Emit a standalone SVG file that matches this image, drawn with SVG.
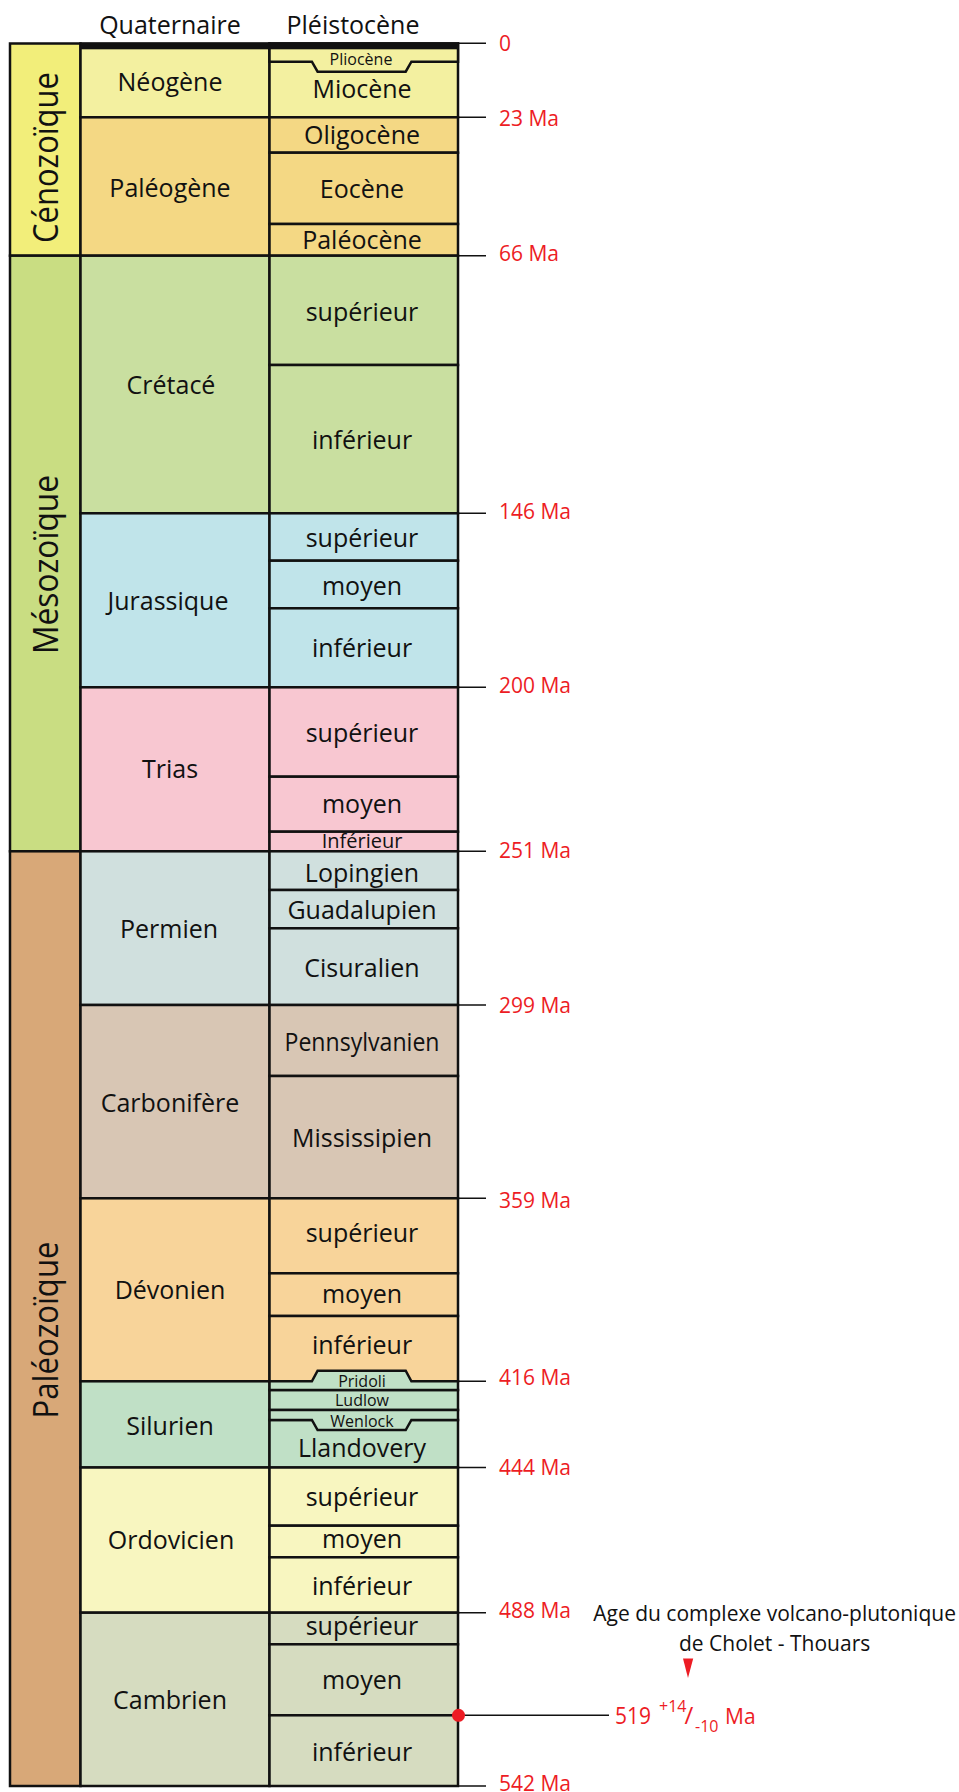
<svg xmlns="http://www.w3.org/2000/svg" width="959" height="1792" viewBox="0 0 959 1792">
<style>
.c{stroke:#111;stroke-width:2.5;stroke-linejoin:miter}
.t{font-family:"Open Sans","Liberation Sans",sans-serif;font-size:25px;fill:#111;text-anchor:middle}
.s{font-family:"Open Sans","Liberation Sans",sans-serif;font-size:16px;fill:#111;text-anchor:middle}
.e{font-family:"Open Sans","Liberation Sans",sans-serif;font-size:34px;fill:#111;text-anchor:middle}
.m{font-family:"Open Sans","Liberation Sans",sans-serif;font-size:21px;fill:#ed1c24}
.k{stroke:#111;stroke-width:1.5;fill:none}
.cz{fill:#f2ee7a}.ng{fill:#f3f0a0}.pg{fill:#f4d884}
.mz{fill:#c9dd82}.cr{fill:#c9dfa0}.ju{fill:#c0e4ea}.tr{fill:#f8c7d1}
.pz{fill:#d8a878}.pe{fill:#d0e0de}.ca{fill:#d8c6b4}.de{fill:#f8d49a}.si{fill:#c0e0c6}.or{fill:#f8f6c0}.cb{fill:#d6dcc0}
</style>

<g id="headers">
<text class="t" x="170" y="34.3">Quaternaire</text>
<text class="t" x="353" y="34.3">Pléistocène</text>
</g>

<!-- Eras -->
<g id="era-cenozoique"><rect class="c cz" x="10" y="43.5" width="70.5" height="212.2"/><text class="e" transform="translate(58,157.5) rotate(-90)" textLength="171" lengthAdjust="spacingAndGlyphs">Cénozoïque</text></g>
<g id="era-mesozoique"><rect class="c mz" x="10" y="255.7" width="70.5" height="595.6"/><text class="e" transform="translate(58,564.5) rotate(-90)" textLength="179" lengthAdjust="spacingAndGlyphs">Mésozoïque</text></g>
<g id="era-paleozoique"><rect class="c pz" x="10" y="851.3" width="70.5" height="934.7"/><text class="e" transform="translate(58,1330) rotate(-90)" textLength="177" lengthAdjust="spacingAndGlyphs">Paléozoïque</text></g>

<!-- Periods -->
<g id="per-neogene"><rect class="c ng" x="80.5" y="43.5" width="189" height="73.8"/><text class="t" x="170" y="90.7">Néogène</text></g>
<g id="per-paleogene"><rect class="c pg" x="80.5" y="117.3" width="189" height="138.4"/><text class="t" x="170" y="196.7">Paléogène</text></g>
<g id="per-cretace"><rect class="c cr" x="80.5" y="255.7" width="189" height="257.6"/><text class="t" x="171" y="394">Crétacé</text></g>
<g id="per-jurassique"><rect class="c ju" x="80.5" y="513.3" width="189" height="174"/><text class="t" x="168" y="610">Jurassique</text></g>
<g id="per-trias"><rect class="c tr" x="80.5" y="687.3" width="189" height="164"/><text class="t" x="170" y="778.3">Trias</text></g>
<g id="per-permien"><rect class="c pe" x="80.5" y="851.3" width="189" height="153.7"/><text class="t" x="169" y="938.3">Permien</text></g>
<g id="per-carbonifere"><rect class="c ca" x="80.5" y="1005" width="189" height="193.3"/><text class="t" x="170" y="1111.7">Carbonifère</text></g>
<g id="per-devonien"><rect class="c de" x="80.5" y="1198.3" width="189" height="183"/><text class="t" x="170" y="1299.3">Dévonien</text></g>
<g id="per-silurien"><rect class="c si" x="80.5" y="1381.3" width="189" height="86.2"/><text class="t" x="170" y="1435">Silurien</text></g>
<g id="per-ordovicien"><rect class="c or" x="80.5" y="1467.5" width="189" height="145.2"/><text class="t" x="171" y="1549.3">Ordovicien</text></g>
<g id="per-cambrien"><rect class="c cb" x="80.5" y="1612.7" width="189" height="173.3"/><text class="t" x="170" y="1709.3">Cambrien</text></g>

<!-- Epochs -->
<g id="ep-miocene"><rect class="c ng" x="269.5" y="43.5" width="188.5" height="73.8"/><text class="t" x="362" y="98.3">Miocène</text></g>
<g id="ep-pliocene"><path class="c ng" d="M269.5,43.5 H458 V61.7 H411.4 L405.7,71.7 H317.6 L311.9,61.7 H269.5 Z"/><text class="s" x="361" y="65">Pliocène</text></g>
<g id="ep-oligocene"><rect class="c pg" x="269.5" y="117.3" width="188.5" height="35.4"/><text class="t" x="362" y="144">Oligocène</text></g>
<g id="ep-eocene"><rect class="c pg" x="269.5" y="152.7" width="188.5" height="71.3"/><text class="t" x="362" y="198.3">Eocène</text></g>
<g id="ep-paleocene"><rect class="c pg" x="269.5" y="224" width="188.5" height="31.7"/><text class="t" x="362" y="249.3">Paléocène</text></g>

<g id="ep-cr-sup"><rect class="c cr" x="269.5" y="255.7" width="188.5" height="109.3"/><text class="t" x="362" y="320.7">supérieur</text></g>
<g id="ep-cr-inf"><rect class="c cr" x="269.5" y="365" width="188.5" height="148.3"/><text class="t" x="362" y="449.3">inférieur</text></g>

<g id="ep-ju-sup"><rect class="c ju" x="269.5" y="513.3" width="188.5" height="47.4"/><text class="t" x="362" y="546.7">supérieur</text></g>
<g id="ep-ju-moy"><rect class="c ju" x="269.5" y="560.7" width="188.5" height="47.6"/><text class="t" x="362" y="595">moyen</text></g>
<g id="ep-ju-inf"><rect class="c ju" x="269.5" y="608.3" width="188.5" height="79"/><text class="t" x="362" y="656.7">inférieur</text></g>

<g id="ep-tr-sup"><rect class="c tr" x="269.5" y="687.3" width="188.5" height="89.4"/><text class="t" x="362" y="741.7">supérieur</text></g>
<g id="ep-tr-moy"><rect class="c tr" x="269.5" y="776.7" width="188.5" height="55"/><text class="t" x="362" y="813.3">moyen</text></g>
<g id="ep-tr-inf"><rect class="c tr" x="269.5" y="831.7" width="188.5" height="19.6"/><text class="t" x="362" y="848.3" style="font-size:20px">Inférieur</text></g>

<g id="ep-lopingien"><rect class="c pe" x="269.5" y="851.3" width="188.5" height="38.7"/><text class="t" x="362" y="881.7">Lopingien</text></g>
<g id="ep-guadalupien"><rect class="c pe" x="269.5" y="890" width="188.5" height="38.3"/><text class="t" x="362" y="919">Guadalupien</text></g>
<g id="ep-cisuralien"><rect class="c pe" x="269.5" y="928.3" width="188.5" height="76.7"/><text class="t" x="362" y="976.7">Cisuralien</text></g>

<g id="ep-pennsylvanien"><rect class="c ca" x="269.5" y="1005" width="188.5" height="71"/><text class="t" x="362" y="1050.7" textLength="155" lengthAdjust="spacingAndGlyphs">Pennsylvanien</text></g>
<g id="ep-mississipien"><rect class="c ca" x="269.5" y="1076" width="188.5" height="122.3"/><text class="t" x="362" y="1146.7">Mississipien</text></g>

<g id="ep-de-sup"><rect class="c de" x="269.5" y="1198.3" width="188.5" height="75"/><text class="t" x="362" y="1241.7">supérieur</text></g>
<g id="ep-de-moy"><rect class="c de" x="269.5" y="1273.3" width="188.5" height="42.7"/><text class="t" x="362" y="1303.3">moyen</text></g>
<g id="ep-de-inf"><rect class="c de" x="269.5" y="1316" width="188.5" height="65.3"/><text class="t" x="362" y="1354">inférieur</text></g>

<g id="ep-llandovery"><rect class="c si" x="269.5" y="1420" width="188.5" height="47.5"/><text class="t" x="362" y="1457">Llandovery</text></g>
<g id="ep-ludlow"><rect class="c si" x="269.5" y="1390" width="188.5" height="20"/><text class="s" x="362" y="1406.4">Ludlow</text></g>
<g id="ep-pridoli"><path class="c si" d="M269.5,1381.3 H311.9 L317.6,1370.7 H405.7 L411.4,1381.3 H458 V1390 H269.5 Z"/><text class="s" x="362" y="1387">Pridoli</text></g>
<g id="ep-wenlock"><path class="c si" d="M269.5,1410 H458 V1420 H411.4 L405.7,1430 H317.6 L311.9,1420 H269.5 Z"/><text class="s" x="362" y="1426.7">Wenlock</text></g>

<g id="ep-or-sup"><rect class="c or" x="269.5" y="1467.5" width="188.5" height="58.2"/><text class="t" x="362" y="1506">supérieur</text></g>
<g id="ep-or-moy"><rect class="c or" x="269.5" y="1525.7" width="188.5" height="31.6"/><text class="t" x="362" y="1548.3">moyen</text></g>
<g id="ep-or-inf"><rect class="c or" x="269.5" y="1557.3" width="188.5" height="55.4"/><text class="t" x="362" y="1595">inférieur</text></g>

<g id="ep-cb-sup"><rect class="c cb" x="269.5" y="1612.7" width="188.5" height="31.6"/><text class="t" x="362" y="1635">supérieur</text></g>
<g id="ep-cb-moy"><rect class="c cb" x="269.5" y="1644.3" width="188.5" height="71"/><text class="t" x="362" y="1689.3">moyen</text></g>
<g id="ep-cb-inf"><rect class="c cb" x="269.5" y="1715.3" width="188.5" height="70.7"/><text class="t" x="362" y="1760.7">inférieur</text></g>

<g id="pleistocene-band"><rect x="80.5" y="42.7" width="378.5" height="6.6" fill="#111"/></g>

<!-- Age ticks and labels -->
<g id="ticks">
<path class="k" d="M458,43.3H486 M458,117.3H486 M458,255.7H486 M458,513.3H486 M458,687.3H486 M458,851.3H486 M458,1005H486 M458,1198.3H486 M458,1381.3H486 M458,1467.5H486 M458,1612.7H486 M458,1786H486"/>
<text class="m" x="499" y="51">0</text>
<text class="m" x="499" y="126">23 Ma</text>
<text class="m" x="499" y="261">66 Ma</text>
<text class="m" x="499" y="518.5">146 Ma</text>
<text class="m" x="499" y="692.5">200 Ma</text>
<text class="m" x="499" y="857.5">251 Ma</text>
<text class="m" x="499" y="1013">299 Ma</text>
<text class="m" x="499" y="1207.5">359 Ma</text>
<text class="m" x="499" y="1385">416 Ma</text>
<text class="m" x="499" y="1475">444 Ma</text>
<text class="m" x="499" y="1617.5">488 Ma</text>
<text class="m" x="499" y="1791">542 Ma</text>
</g>

<g id="connectors">
<line class="k" x1="458" y1="1715.3" x2="609" y2="1715.3"/>
</g>

<g id="age-point"><circle cx="458.5" cy="1715.3" r="6.5" fill="#ed1c24"/></g>

<g id="age-label">
<text class="m" x="615" y="1723.5" style="font-size:24px" textLength="36" lengthAdjust="spacingAndGlyphs">519</text>
<text class="m" x="659" y="1711.8" style="font-size:16px">+14</text>
<text class="m" x="684.5" y="1724" style="font-size:24px">/</text>
<text class="m" x="695" y="1732" style="font-size:16px">-10</text>
<text class="m" x="725" y="1723.5">Ma</text>
</g>

<g id="annotation">
<text style="font-family:'Open Sans','Liberation Sans',sans-serif;font-size:21px;fill:#111;text-anchor:middle" x="774.6" y="1621.4">Age du complexe volcano-plutonique</text>
<text style="font-family:'Open Sans','Liberation Sans',sans-serif;font-size:21px;fill:#111;text-anchor:middle" x="774.6" y="1651">de Cholet - Thouars</text>
<polygon points="683,1658.5 693.2,1658.5 688,1678" fill="#ed1c24"/>
</g>
</svg>
